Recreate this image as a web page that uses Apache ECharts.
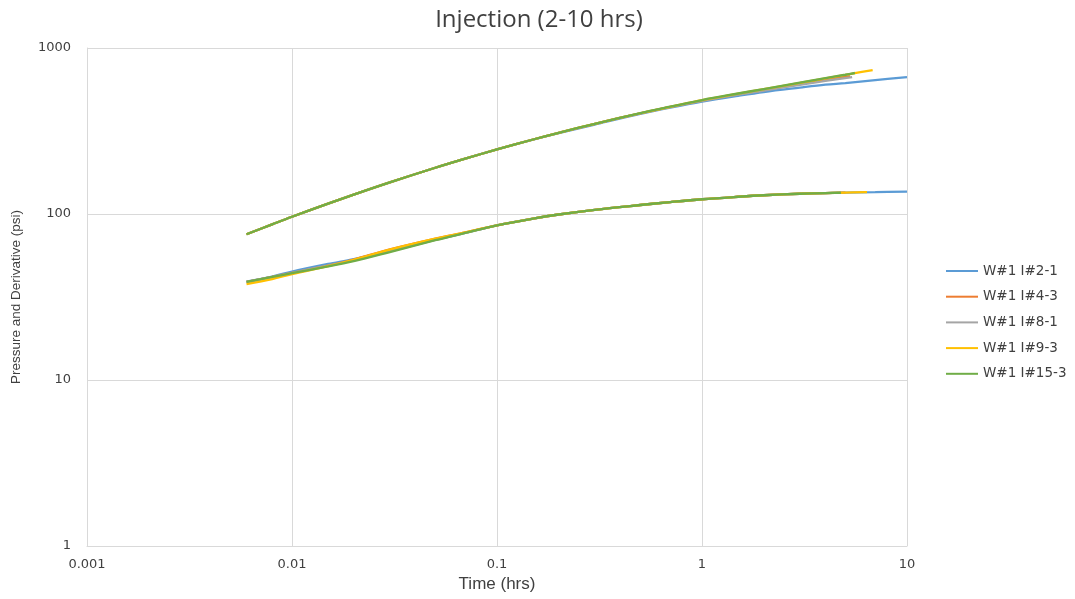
<!DOCTYPE html>
<html><head><meta charset="utf-8">
<script src="https://cdn.jsdelivr.net/npm/echarts@6/dist/echarts.min.js"></script>
<style>html,body{margin:0;padding:0;background:#fff}#c{width:1075px;height:599px}</style>
</head><body><div id="c"></div>
<script>
const seriesNames = ['W#1 I#2-1','W#1 I#4-3','W#1 I#8-1','W#1 I#9-3','W#1 I#15-3'];
const colors = ['#5B9BD5','#ED7D31','#A5A5A5','#FFC000','#70AD47'];
const xTicks = ['0.001','0.01','0.1','1','10'];
const yTicks = ['1','10','100','1000'];

// Time values (hrs) – pressure curves
const tpBlue   = [0.006,0.008,0.01,0.015,0.02,0.03,0.05,0.07,0.1,0.15,0.2,0.3,0.5,0.7,1,1.5,2,3,4,5,7,10];
const tpOrange = [0.006,0.008,0.01,0.015,0.02,0.03,0.05,0.07,0.1,0.15,0.2,0.3,0.5,0.7,1,1.5,2,3,4,5.27];
const tpGray   = [0.006,0.008,0.01,0.015,0.02,0.03,0.05,0.07,0.1,0.15,0.2,0.3,0.5,0.7,1,1.5,2,3,4,5.4];
const tpYellow = [0.006,0.008,0.01,0.015,0.02,0.03,0.05,0.07,0.1,0.15,0.2,0.3,0.5,0.7,1,1.5,2,3,4,5,5.57,6.8];
const tpGreen  = [0.006,0.008,0.01,0.015,0.02,0.03,0.05,0.07,0.1,0.15,0.2,0.3,0.5,0.7,1,1.5,2,3,4,5,5.57];

// Pressure (psi)
const pBlue   = [75.5,86.6,96.2,115.5,130.9,155.1,189.9,215.5,244.9,280.5,307,346,401,437,475,515,543,577,601,615,641,668];
const pOrange = [75.5,86.6,96.2,115.5,130.9,155.1,189.9,215.5,244.9,281.1,308.5,349.4,404,441.4,482,527,558,606,641,678];
const pGray   = [75.5,86.6,96.2,115.5,130.9,155.1,189.9,215.5,244.9,281.1,308.5,349.4,404,441,480,524,554,600,633,668];
const pYellow = [75.5,86.6,96.2,115.5,130.9,155.1,189.9,215.5,244.9,281.1,308.5,349.4,404.5,442,485,531,565,616,656,688,705,736];
const pGreen  = [75.5,86.6,96.2,115.5,130.9,155.1,189.9,215.5,244.9,281.1,308.5,349.5,405,443,486,532,566,618,658,690,707];

// Time values (hrs) – derivative curves
const tdBlue   = [0.006,0.008,0.01,0.015,0.02,0.03,0.05,0.07,0.1,0.15,0.2,0.3,0.5,0.7,1,1.5,2,3,4,5,7,10];
const tdOrange = [0.006,0.008,0.01,0.015,0.02,0.03,0.05,0.07,0.1,0.15,0.2,0.3,0.5,0.7,1,1.5,2,3,4,5];
const tdGray   = [0.006,0.008,0.01,0.015,0.02,0.03,0.05,0.07,0.1,0.15,0.2,0.3,0.5,0.7,1,1.5,2,3,4,5];
const tdYellow = [0.006,0.008,0.01,0.015,0.02,0.03,0.05,0.07,0.1,0.15,0.2,0.3,0.5,0.7,1,1.5,2,3,4,5,6.38];
const tdGreen  = [0.006,0.008,0.01,0.015,0.02,0.03,0.05,0.07,0.1,0.15,0.2,0.3,0.5,0.7,1,1.5,2,3,4,4.76];

// Derivative (psi)
const dBlue   = [39.2,42,45,50,53.5,60,70,77,85.5,93.8,99.3,106,113.3,118,122.7,127,129.7,132.4,133.7,134.6,135.5,136.5];
const dOrange = [39,41.8,44.2,48.9,53.2,61.2,71,77.5,85.5,93.8,99.3,106,113.3,118,122.7,127,129.7,132.4,133.7,134.6];
const dGray   = [39,41.8,44.2,48.9,52.5,59.5,69.8,76.9,85.5,93.8,99.3,106,113.3,118,122.7,127,129.7,132.4,133.7,134.6];
const dYellow = [37.8,40.5,43.5,48.5,53,61,71,77.5,85.5,93.8,99.3,106,113.3,118,122.7,127,129.7,132.4,133.7,134.6,135.3];
const dGreen  = [39,41.8,44,48.3,52,59,69.5,76.9,85.5,93.8,99.3,106,113.3,118,122.7,127,129.7,132.4,133.7,134.3];

const groups = [
  [tpBlue,pBlue,tdBlue,dBlue],
  [tpOrange,pOrange,tdOrange,dOrange],
  [tpGray,pGray,tdGray,dGray],
  [tpYellow,pYellow,tdYellow,dYellow],
  [tpGreen,pGreen,tdGreen,dGreen]
];

const series = [];
groups.forEach((g,i)=>{
  const pd = g[0].map((x,k)=>[x,g[1][k]]);
  const dd = g[2].map((x,k)=>[x,g[3][k]]);
  [pd,dd].forEach(data=>{
    series.push({name:seriesNames[i],type:'line',data:data,smooth:0.35,showSymbol:false,symbol:'none',
      lineStyle:{width:2.3,color:colors[i]},itemStyle:{color:colors[i]},z:2+i});
  });
});

const chart = echarts.init(document.getElementById('c'));
chart.setOption({
  animation:false,
  color:colors,
  title:{text:'Injection (2-10 hrs)',left:534,textAlign:'center',top:3,
    textStyle:{fontFamily:'Open Sans',fontSize:24,fontWeight:'normal',color:'#404040'}},
  legend:{orient:'vertical',left:941,top:259,itemWidth:32,itemHeight:14,itemGap:11.7,
    icon:'path://M0,6 L32,6 L32,8 L0,8 Z',
    data:seriesNames,textStyle:{fontFamily:'DejaVu Sans',fontSize:13.5,color:'#404040'}},
  grid:{left:87,right:168,top:48,bottom:53,containLabel:false},
  xAxis:{type:'log',logBase:10,min:0.001,max:10,
    name:'Time (hrs)',nameLocation:'middle',nameGap:30,
    nameTextStyle:{fontFamily:'Liberation Sans',fontSize:17,color:'#404040'},
    axisLine:{lineStyle:{color:'#d9d9d9',width:1}},axisTick:{show:false},
    axisLabel:{margin:12,fontFamily:'DejaVu Sans',fontSize:13,color:'#404040',
      formatter:v=>{const e=Math.round(Math.log10(v));return xTicks[e+3]||'';}},
    splitLine:{show:true,lineStyle:{color:'#d9d9d9',width:1}},minorTick:{show:false}},
  yAxis:{type:'log',logBase:10,min:1,max:1000,
    name:'Pressure and Derivative (psi)',nameLocation:'middle',nameGap:64,nameRotate:90,
    nameTextStyle:{fontFamily:'Liberation Sans',fontSize:13.5,color:'#404040'},
    axisLine:{show:true,lineStyle:{color:'#d9d9d9',width:1}},axisTick:{show:false},
    axisLabel:{margin:16,fontFamily:'DejaVu Sans',fontSize:13,color:'#404040',
      formatter:v=>{const e=Math.round(Math.log10(v));return yTicks[e]||'';}},
    splitLine:{show:true,lineStyle:{color:'#d9d9d9',width:1}}},
  series:series
});
</script></body></html>
